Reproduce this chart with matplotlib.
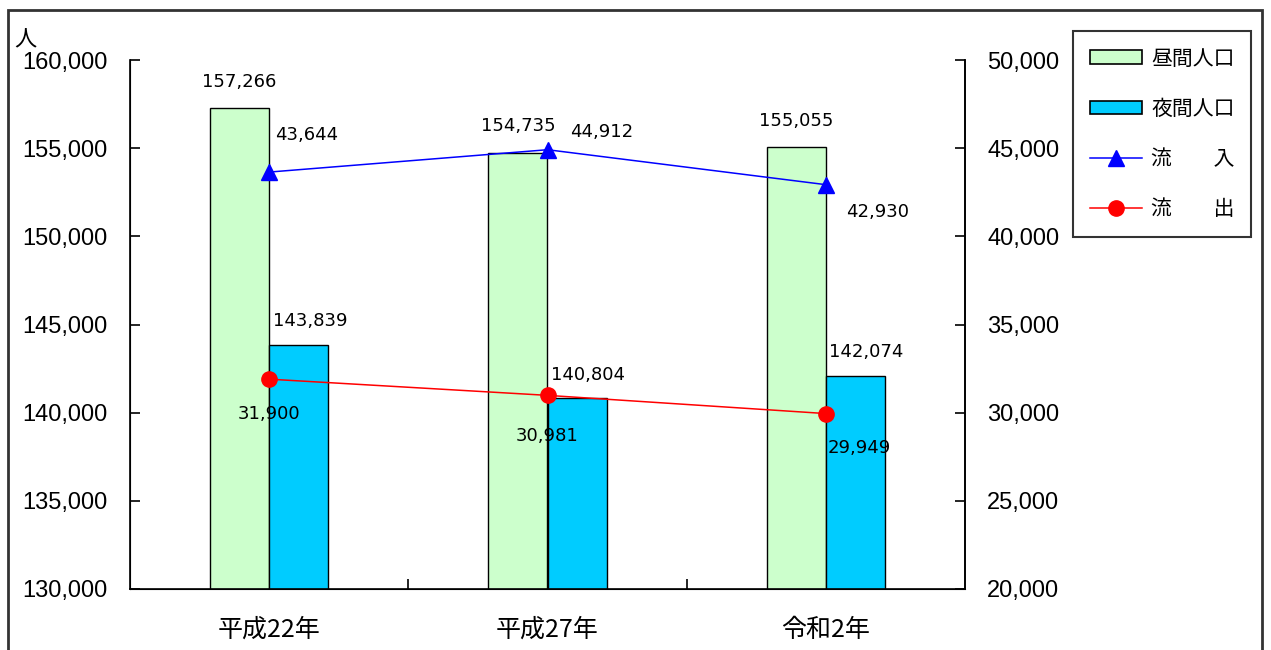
import matplotlib
matplotlib.use("Agg")
import matplotlib.pyplot as plt
from matplotlib.patches import Rectangle
from matplotlib.lines import Line2D
import numpy as np

plt.rcParams['font.family'] = ['Noto Sans CJK JP', 'DejaVu Sans']

# データ
categories = ['平成22年', '平成27年', '令和2年']
daytime = [157266, 154735, 155055]
nighttime = [143839, 140804, 142074]
inflow = [43644, 44912, 42930]
outflow = [31900, 30981, 29949]

left_ticks = [130000, 135000, 140000, 145000, 150000, 155000, 160000]
right_ticks = [20000, 25000, 30000, 35000, 40000, 45000, 50000]

# ラベルの位置調整 (points)
inflow_off = [(27, 27), (39, 13), (37, -20)]
outflow_off = [(0, -25), (0, -29), (24, -25)]

green = '#CCFFCC'
blue = '#00CCFF'

fig = plt.figure(figsize=(12.71, 6.5), dpi=100)
ax = fig.add_axes([130/1271, 1-589/650, 835/1271, 529/650])
ax2 = ax.twinx()

x = np.arange(len(categories))
w = 0.213

ax.bar(x - w/2, daytime, w, color=green, edgecolor='black', linewidth=1)
ax.bar(x + w/2, nighttime, w, color=blue, edgecolor='black', linewidth=1)

num_font = dict(fontsize=13, family=['Liberation Sans Narrow', 'DejaVu Sans'])
tick_family = ['Liberation Sans', 'DejaVu Sans']
for i in range(len(x)):
    ax.annotate(f'{daytime[i]:,}', (x[i] - w/2, daytime[i]), xytext=(0, 19),
                textcoords='offset points', ha='center', va='center', **num_font)
    ax.annotate(f'{nighttime[i]:,}', (x[i] + w/2, nighttime[i]), xytext=(8, 17),
                textcoords='offset points', ha='center', va='center', **num_font)

ax.set_xlim(-0.5, 2.5)
ax.set_ylim(130000, 160000)
ax.set_yticks(left_ticks)
ax.set_yticklabels([f'{v:,}' for v in left_ticks], family=tick_family)
ax.set_xticks(x)
ax.set_xticklabels(categories, fontsize=18)
ax.set_xticks([0.5, 1.5], minor=True)
ax.tick_params(axis='x', which='major', length=0, pad=20)
ax.tick_params(axis='x', which='minor', direction='in', length=7, width=1.2)
ax.tick_params(axis='y', direction='in', length=7, width=1.2, labelsize=17, pad=16)
ax.spines['top'].set_visible(False)
for s in ['left', 'bottom', 'right']:
    ax.spines[s].set_linewidth(1.2)

ax2.plot(x, inflow, color='#0000FF', linewidth=1.1, marker='^', markersize=11)
ax2.plot(x, outflow, color='#FF0000', linewidth=1.1, marker='o', markersize=11)
for i in range(len(x)):
    ax2.annotate(f'{inflow[i]:,}', (x[i], inflow[i]), xytext=inflow_off[i],
                 textcoords='offset points', ha='center', va='center', **num_font)
    ax2.annotate(f'{outflow[i]:,}', (x[i], outflow[i]), xytext=outflow_off[i],
                 textcoords='offset points', ha='center', va='center', **num_font)

ax2.set_ylim(20000, 50000)
ax2.set_yticks(right_ticks)
ax2.set_yticklabels([f'{v:,}' for v in right_ticks], family=tick_family)
ax2.tick_params(axis='y', direction='in', length=7, width=1.2, labelsize=17, pad=16)
ax2.spines['top'].set_visible(False)
ax2.spines['right'].set_linewidth(1.2)

fig.text(25/1271, 1-40/650, '人', fontsize=16, ha='center', va='center')

# 凡例
handles = [
    Rectangle((0, 0), 1, 1, facecolor=green, edgecolor='black', linewidth=1.2),
    Rectangle((0, 0), 1, 1, facecolor=blue, edgecolor='black', linewidth=1.2),
    Line2D([], [], color='#0000FF', linewidth=1.1, marker='^', markersize=11),
    Line2D([], [], color='#FF0000', linewidth=1.1, marker='o', markersize=11),
]
labels = ['昼間人口', '夜間人口', '流　　入', '流　　出']
leg = fig.legend(handles, labels, loc='upper left',
                 bbox_to_anchor=(1073/1271, 1-31/650), bbox_transform=fig.transFigure,
                 fontsize=15, frameon=True, fancybox=False, edgecolor='black',
                 handlelength=2.5, handleheight=0.65, labelspacing=1.35,
                 borderpad=0.8, handletextpad=0.45, borderaxespad=0)
leg.get_frame().set_linewidth(1.5)

# 外枠
fig.patches.append(Rectangle((8/1271, -0.05), 1254/1271, 1-10/650+0.05,
                             transform=fig.transFigure, fill=False,
                             edgecolor='#333333', linewidth=2))

fig.savefig('out.png', dpi=100)
